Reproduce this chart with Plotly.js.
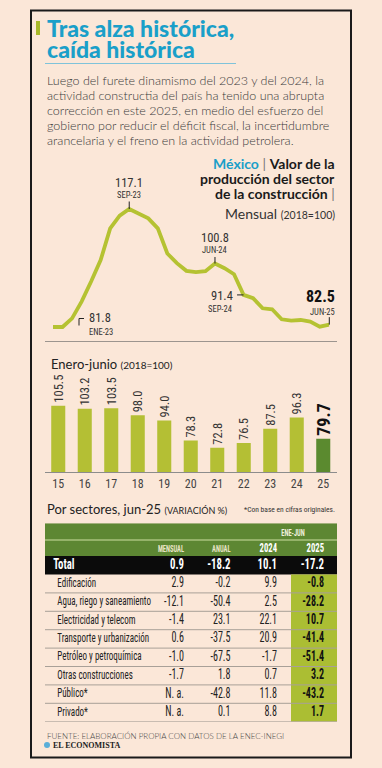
<!DOCTYPE html>
<html><head><meta charset="utf-8">
<script src="https://cdn.plot.ly/plotly-3.0.1.min.js"></script>
<style>html,body{margin:0;padding:0;background:#fbe7d8;}#g{width:382px;height:768px;}</style>
</head><body><div id="g"></div>
<script>
// ---------- DATA ----------
const months = ['ENE-23','FEB-23','MAR-23','ABR-23','MAY-23','JUN-23','JUL-23','AGO-23','SEP-23','OCT-23','NOV-23','DIC-23',
  'ENE-24','FEB-24','MAR-24','ABR-24','MAY-24','JUN-24','JUL-24','AGO-24','SEP-24','OCT-24','NOV-24','DIC-24',
  'ENE-25','FEB-25','MAR-25','ABR-25','MAY-25','JUN-25'];
const monthlyIndex = [81.8,81.8,84.4,89.4,95.4,101.8,111.3,115.1,117.1,115.6,114.3,111.3,
  103.8,100.9,98.6,98.2,98.5,100.8,99.4,97.6,91.4,90.4,87.4,87.1,
  84.1,83.7,83.9,83.4,81.9,82.5];
const years = ['15','16','17','18','19','20','21','22','23','24','25'];
const eneJunIndex = [105.5,103.2,103.5,98.0,94.0,78.3,72.8,76.5,87.5,96.3,79.7];
const sectors = ['Edificación','Agua, riego y saneamiento','Electricidad y telecom','Transporte y urbanización','Petróleo y petroquímica','Otras construcciones','Público*','Privado*'];
const mensual = [2.9,-12.1,-1.4,0.6,-1.0,-1.7,null,null];
const anual = [-0.2,-50.4,23.1,-37.5,-67.5,1.8,-42.8,0.1];
const ej2024 = [9.9,2.5,22.1,20.9,-1.7,0.7,11.8,8.8];
const ej2025 = [-0.8,-28.2,10.7,-41.4,-51.4,3.2,-43.2,1.7];
const totalRow = {label:'Total', mensual:0.9, anual:-18.2, ej2024:10.1, ej2025:-17.2};
const headerCols = ['MENSUAL','ANUAL','2024','2025'];
const headerGroup = 'ENE-JUN';

// ---------- HELPERS ----------
const W=382,H=768;
const PX=x=>x/W, PY=y=>1-y/H;
const BG='#fbe7d8';
const CF="'Roboto Condensed',Roboto,sans-serif";
const BF="Lato,'Open Sans',sans-serif";
const fmt=v=>v===null?'N. a.':v.toFixed(1);

const annotations=[];
function txt(x,yBase,text,size,opts={}){
  annotations.push(Object.assign({xref:'paper',yref:'paper',x:PX(x),y:PY(yBase-0.35*size),
    xanchor:'left',yanchor:'middle',showarrow:false,text:text,
    font:{family:BF,size:size,color:'#333'}},opts));
}
function ptxt(i,text,size,xs,ys,opts={}){
  annotations.push(Object.assign({xref:'x',yref:'y',x:months[i],y:monthlyIndex[i],xshift:xs,yshift:ys,
    showarrow:false,text:text,xanchor:'center',yanchor:'middle',
    font:{family:CF,size:size,color:'#333'}},opts));
}
function parrow(i,ax,ay){
  annotations.push({xref:'x',yref:'y',x:months[i],y:monthlyIndex[i],text:'',showarrow:true,
    ax:ax,ay:ay,arrowhead:0,arrowwidth:1,arrowcolor:'#222',standoff:0,startstandoff:0,font:{size:1}});
}

// ---------- TRACES ----------
const traces=[];
traces.push({type:'scatter',mode:'lines',x:months,y:monthlyIndex,xaxis:'x',yaxis:'y',
  line:{color:'#b5c232',width:3.8},hoverinfo:'skip'});

const last=eneJunIndex.length-1;
traces.push({type:'bar',x:years,y:eneJunIndex,xaxis:'x2',yaxis:'y2',
  marker:{color:eneJunIndex.map((v,i)=>i===last?'#5b8a2f':'#b4bf34')},
  text:eneJunIndex.map((v,i)=>i===last?'<b>'+v.toFixed(1)+'</b>':v.toFixed(1)),
  textposition:'outside',textangle:-90,constraintext:'none',cliponaxis:false,
  textfont:{family:CF,size:eneJunIndex.map((v,i)=>i===last?18:12.5),
    color:eneJunIndex.map((v,i)=>i===last?'#111':'#333')},hoverinfo:'skip'});

const rowsY = sectors.map((s,i)=>i+1);
const colX = {label:(57.3-45)/292, mensual:(184-45)/292, anual:(230.5-45)/292, ej2024:(277-45)/292, ej2025:(324-45)/292};
function tcol(xv,yv,tx,pos,font){
  traces.push({type:'scatter',mode:'text',x:xv,y:yv,text:tx,textposition:pos,textfont:font,
    xaxis:'x3',yaxis:'y3',hoverinfo:'skip',cliponaxis:false});
}
const fill=(n,v)=>Array(n).fill(v);
tcol(fill(8,colX.label),rowsY,sectors,'middle right',{family:CF,size:12.5,color:'#222'});
tcol(fill(8,colX.mensual),rowsY,mensual.map(fmt),'middle left',{family:CF,size:14,color:'#222'});
tcol(fill(8,colX.anual),rowsY,anual.map(fmt),'middle left',{family:CF,size:14,color:'#222'});
tcol(fill(8,colX.ej2024),rowsY,ej2024.map(fmt),'middle left',{family:CF,size:14,color:'#222'});
tcol(fill(8,colX.ej2025),rowsY,ej2025.map(v=>'<b>'+fmt(v)+'</b>'),'middle left',{family:CF,size:14,color:'#111'});
tcol([(53.3-45)/292],[0],['<b>'+totalRow.label+'</b>'],'middle right',{family:CF,size:15,color:'#fff'});
tcol([colX.mensual,colX.anual,colX.ej2024,colX.ej2025],[0,0,0,0],
  [totalRow.mensual,totalRow.anual,totalRow.ej2024,totalRow.ej2025].map(v=>'<b>'+fmt(v)+'</b>'),
  'middle left',{family:CF,size:15,color:'#fff'});
tcol([colX.mensual,colX.anual],[-0.86,-0.86],headerCols.slice(0,2).map(s=>'<b>'+s+'</b>'),'middle left',{family:CF,size:9,color:'#e9e4c6'});
tcol([colX.ej2024,colX.ej2025],[-0.86,-0.86],headerCols.slice(2).map(s=>'<b>'+s+'</b>'),'middle left',{family:CF,size:12,color:'#ffffff'});
tcol([(293-45)/292],[-1.70],['<b>'+headerGroup+'</b>'],'middle center',{family:CF,size:9,color:'#eef0dc'});

// ---------- ANNOTATIONS ----------
const TF={family:BF,size:23,color:'#1a9fc9',weight:900};
txt(45,36,'Tras alza histórica,',23,{font:TF});
txt(45,57.5,'caída histórica',23,{font:TF});
const para=['Luego del furete dinamismo del 2023 y del 2024, la',
 'actividad constructia del país ha tenido una abrupta',
 'corrección en este 2025, en medio del esfuerzo del',
 'gobierno por reducir el déficit fiscal, la incertidumbre',
 'arancelaria y el freno en la actividad petrolera.'];
para.forEach((l,i)=>txt(45,85+15*i,l,12.5,{font:{family:BF,size:12.5,color:'#3a3a3a',weight:300}}));

const hOpt={xanchor:'right',font:{family:BF,size:14,color:'#1a1a1a'}};
txt(337,168,'<span style="color:#1a9fc9"><b>México</b></span> <span style="color:#777">|</span> <b>Valor de la</b>',14,hOpt);
txt(337,183,'<b>producción del sector</b>',14,hOpt);
txt(337,198,'<b>de la construcción</b> <span style="color:#777">|</span>',14,hOpt);
txt(337,218,'Mensual <span style="font-size:10.5px">(2018=100)</span>',14,{xanchor:'right',font:{family:BF,size:14,color:'#333'}});

ptxt(8,'117.1',12.5,0,26.5); ptxt(8,'SEP-23',8.5,0,13.5); parrow(8,0,-9);
ptxt(17,'100.8',12.5,0,25.5); ptxt(17,'JUN-24',8.5,0,13.5); parrow(17,0,-8);
ptxt(20,'91.4',12.5,-9,-1,{xanchor:'right'}); ptxt(20,'SEP-24',8.5,-10,-14,{xanchor:'right'}); parrow(20,-8,0);
ptxt(29,'<b>82.5</b>',16,8,28,{xanchor:'right',font:{family:CF,size:16,color:'#111'}});
ptxt(29,'JUN-25',8.5,8,12.5,{xanchor:'right'}); parrow(29,0,-9);
ptxt(0,'81.8',12.5,34,9.5,{xanchor:'left'}); ptxt(0,'ENE-23',8.5,34,-5,{xanchor:'left'});

txt(49,369,'Enero-junio <span style="font-size:10px">(2018=100)</span>',13,{font:{family:BF,size:13,color:'#222'}});
txt(45,513.5,'Por sectores, jun-25 <span style="font-size:9px">(VARIACIÓN %)</span>',13,{font:{family:BF,size:13,color:'#222'}});
txt(337,512.5,'*Con base en cifras originales.',7.5,{xanchor:'right',font:{family:CF,size:7.5,color:'#333'}});
txt(45,738.5,'FUENTE: ELABORACIÓN PROPIA CON DATOS DE LA ENEC-INEGI',8,{font:{family:BF,size:8,color:'#444',weight:300}});
txt(51,748,'<b>EL ECONOMISTA</b>',8,{font:{family:"'Liberation Serif','DejaVu Serif',serif",size:8,color:'#222'}});

// ---------- SHAPES ----------
const shapes=[
  {type:'rect',xref:'paper',yref:'paper',x0:PX(31),x1:PX(351),y0:PY(757.5),y1:PY(10.5),line:{color:'#1a1a1a',width:2},fillcolor:'rgba(0,0,0,0)'},
  {type:'rect',xref:'paper',yref:'paper',x0:PX(36),x1:PX(40),y0:PY(35),y1:PY(21),line:{width:0},fillcolor:'#a8b82a'},
  {type:'line',xref:'paper',yref:'paper',x0:PX(45),x1:PX(236),y0:PY(63.5),y1:PY(63.5),line:{color:'#7fc3da',width:1}},
  {type:'line',xref:'paper',yref:'paper',x0:PX(45),x1:PX(337),y0:PY(341.5),y1:PY(341.5),line:{color:'#9c958f',width:1}},
  {type:'path',xref:'paper',yref:'paper',path:`M ${PX(79)},${PY(325.5)} L ${PX(79)},${PY(318.5)} L ${PX(84)},${PY(318.5)}`,line:{color:'#222',width:1}},
  {type:'circle',xref:'paper',yref:'paper',x0:PX(44),x1:PX(50),y0:PY(748),y1:PY(742),line:{width:0},fillcolor:'#5aaed8'},
  {type:'rect',xref:'x3',yref:'y3',x0:0,x1:1,y0:-2.283,y1:-0.5,line:{width:0},fillcolor:'#5d8733',layer:'below'},
  {type:'line',xref:'x3',yref:'y3',x0:0,x1:1,y0:-1.375,y1:-1.375,line:{color:'#a9c27e',width:1.5},layer:'below'},
  {type:'rect',xref:'x3',yref:'y3',x0:0,x1:1,y0:-0.5,y1:0.5,line:{width:0},fillcolor:'#0b0b0b',layer:'below'},
  {type:'rect',xref:'x3',yref:'y3',x0:(291-45)/292,x1:1,y0:0.5,y1:8.5,line:{width:0},fillcolor:'#abbe33',layer:'below'}
];
for(let k=1;k<=8;k++) shapes.push({type:'line',xref:'x3',yref:'y3',x0:0,x1:1,y0:k+0.5,y1:k+0.5,line:{color:'#a8a098',width:1},layer:'below'});

const hid={visible:false,fixedrange:true};
const layout={
  width:W,height:H,margin:{l:0,r:0,t:0,b:0},paper_bgcolor:BG,plot_bgcolor:'rgba(0,0,0,0)',
  showlegend:false,bargap:0.47,
  xaxis:Object.assign({type:'category',range:[0,29],domain:[PX(53),PX(329.3)],anchor:'y'},hid),
  yaxis:Object.assign({range:[79.41,119.79],domain:[PY(335),PY(200)],anchor:'x'},hid),
  xaxis2:{type:'category',range:[-0.5,10.5],domain:[PX(45),PX(336.5)],anchor:'y2',showline:true,linecolor:'#8c8c8c',linewidth:1,
    showgrid:false,zeroline:false,ticks:'',tickfont:{family:CF,size:12,color:'#444'},fixedrange:true},
  yaxis2:Object.assign({range:[53.6,125.5],domain:[PY(472.3),PY(380)],anchor:'x2'},hid),
  xaxis3:Object.assign({range:[0,1],domain:[PX(45),PX(337)],anchor:'y3'},hid),
  yaxis3:Object.assign({range:[8.5,-2.283],domain:[PY(721.7),PY(523.3)],anchor:'x3'},hid),
  annotations:annotations,shapes:shapes
};
Plotly.newPlot('g',traces,layout,{staticPlot:true,displayModeBar:false}).then(gd=>{
  const s=0.72;
  gd.querySelectorAll('.scatterlayer .textpoint text').forEach(t=>{
    const x=parseFloat(t.getAttribute('x'))||0;
    t.setAttribute('transform',`translate(${x*(1-s)},0) scale(${s},1)`);
  });
});
</script></body></html>
